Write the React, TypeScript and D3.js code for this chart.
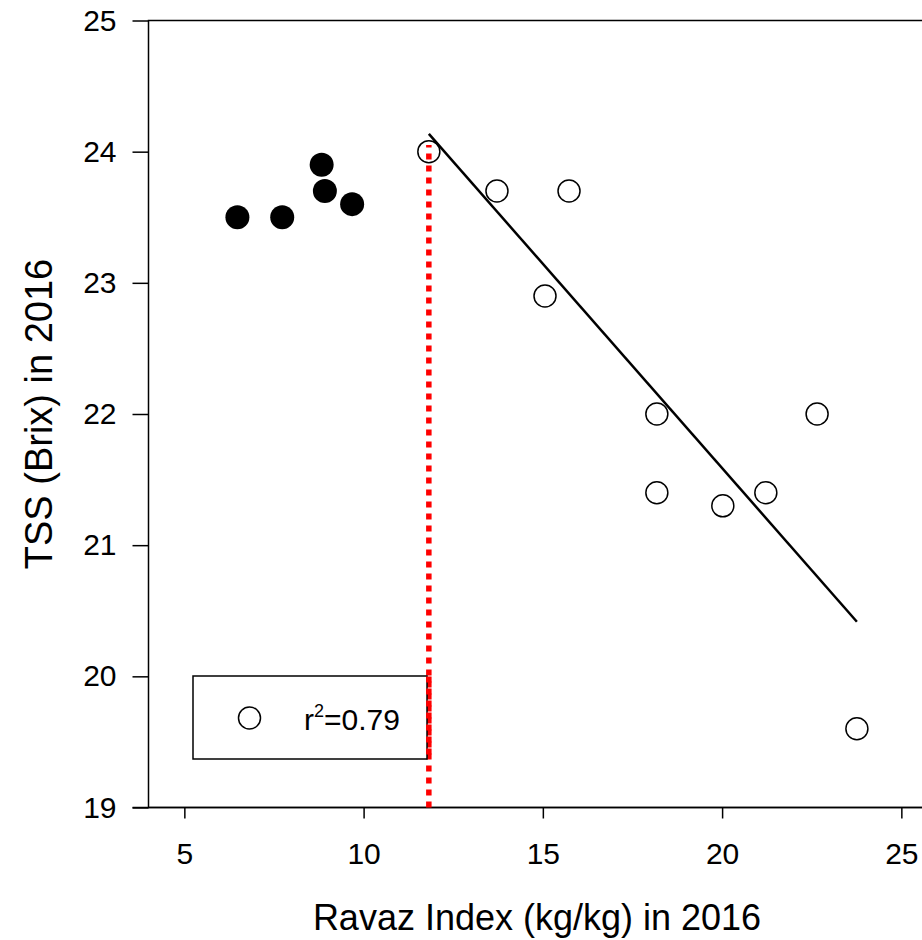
import React, { useEffect, useRef } from "react";
import * as d3 from "d3";

// Ravaz index vs TSS, 2016
const lowX = [6.48, 7.73, 8.83, 8.92, 9.68]; // filled points (below threshold)
const lowY = [23.5, 23.5, 23.9, 23.7, 23.6];
const highX = [11.82, 13.72, 15.73, 15.06, 18.18, 18.18, 20.02, 21.22, 22.65, 23.76]; // open points
const highY = [24.0, 23.7, 23.7, 22.9, 22.0, 21.4, 21.3, 21.4, 22.0, 19.6];
const thresholdX = 11.82;
const thresholdTop = 24.05;
const xTicks = [5, 10, 15, 20, 25];
const yTicks = [19, 20, 21, 22, 23, 24, 25];
const r2Label = "0.79";

const FONT = "Arial, 'Liberation Sans', sans-serif";

export default function App() {
  const ref = useRef<SVGSVGElement>(null);

  useEffect(() => {
    const svg = d3.select(ref.current);
    svg.selectAll("*").remove();

    const x = d3.scaleLinear().domain([4, 26]).range([148.5, 937.2]);
    const y = d3.scaleLinear().domain([19, 25]).range([807.5, 20.5]);

    // frame (top line / right side mostly out of view)
    svg.append("rect")
      .attr("x", x(4)).attr("y", y(25))
      .attr("width", x(26) - x(4)).attr("height", y(19) - y(25))
      .attr("fill", "none").attr("stroke", "#000").attr("stroke-width", 1.5);

    // bottom axis
    const gx = svg.append("g").attr("transform", `translate(0, ${y(19)})`)
      .call(d3.axisBottom(x).tickValues(xTicks).tickSize(11).tickSizeOuter(0).tickPadding(24).tickFormat(d3.format("d")));
    gx.select(".domain").remove();
    svg.append("line").attr("x1", x(4) - 16).attr("x2", x(26))
      .attr("y1", y(19)).attr("y2", y(19)).attr("stroke", "#000").attr("stroke-width", 1.5);

    // left axis
    const gy = svg.append("g").attr("transform", `translate(${x(4)}, 0)`)
      .call(d3.axisLeft(y).tickValues(yTicks).tickSize(16).tickSizeOuter(0).tickPadding(16).tickFormat(d3.format("d")));
    gy.select(".domain").remove();

    [gx, gy].forEach(g => {
      g.selectAll("line").attr("stroke", "#000").attr("stroke-width", 1.5);
      g.selectAll("text").attr("font-family", FONT).attr("font-size", 30).attr("fill", "#000");
    });

    // axis titles
    svg.append("text")
      .attr("x", 537).attr("y", 930)
      .attr("text-anchor", "middle")
      .attr("font-family", FONT).attr("font-size", 36)
      .text("Ravaz Index (kg/kg) in 2016");

    svg.append("text")
      .attr("transform", `translate(52, ${(y(19) + y(25)) / 2}) rotate(-90)`)
      .attr("text-anchor", "middle")
      .attr("font-family", FONT).attr("font-size", 38)
      .text("TSS (Brix) in 2016");

    // threshold line
    svg.append("line")
      .attr("x1", x(thresholdX)).attr("x2", x(thresholdX))
      .attr("y1", y(19)).attr("y2", y(thresholdTop))
      .attr("stroke", "#ff0000").attr("stroke-width", 5.5)
      .attr("stroke-dasharray", "6,6");

    // regression on open points
    const n = highX.length;
    const mx = d3.mean(highX) as number;
    const my = d3.mean(highY) as number;
    let sxy = 0, sxx = 0;
    for (let i = 0; i < n; i++) {
      sxy += (highX[i] - mx) * (highY[i] - my);
      sxx += (highX[i] - mx) ** 2;
    }
    const slope = sxy / sxx;
    const icpt = my - slope * mx;
    const [x0, x1] = d3.extent(highX) as [number, number];
    svg.append("line")
      .attr("x1", x(x0)).attr("y1", y(icpt + slope * x0))
      .attr("x2", x(x1)).attr("y2", y(icpt + slope * x1))
      .attr("stroke", "#000").attr("stroke-width", 2.5);

    // filled points
    svg.append("g").selectAll("circle")
      .data(lowX.map((d, i) => [d, lowY[i]]))
      .join("circle")
      .attr("cx", d => x(d[0])).attr("cy", d => y(d[1]))
      .attr("r", 12).attr("fill", "#000");

    // open points
    svg.append("g").selectAll("circle")
      .data(highX.map((d, i) => [d, highY[i]]))
      .join("circle")
      .attr("cx", d => x(d[0])).attr("cy", d => y(d[1]))
      .attr("r", 11).attr("fill", "none").attr("stroke", "#000").attr("stroke-width", 1.5);

    // legend
    const lg = svg.append("g");
    lg.append("rect")
      .attr("x", 193).attr("y", 676).attr("width", 234).attr("height", 83)
      .attr("fill", "#fff").attr("stroke", "#000").attr("stroke-width", 1.5);
    lg.append("circle")
      .attr("cx", 249.5).attr("cy", 718).attr("r", 11)
      .attr("fill", "none").attr("stroke", "#000").attr("stroke-width", 1.5);
    const t = lg.append("text")
      .attr("x", 304).attr("y", 730)
      .attr("font-family", FONT).attr("font-size", 30);
    t.append("tspan").text("r");
    t.append("tspan").attr("font-size", 18).attr("dy", -13).text("2");
    t.append("tspan").attr("dy", 13).text("=" + r2Label);

    // threshold line continues over the legend border
    svg.append("line")
      .attr("x1", x(thresholdX)).attr("x2", x(thresholdX))
      .attr("y1", 676).attr("y2", 759)
      .attr("stroke", "#ff0000").attr("stroke-width", 5.5)
      .attr("stroke-dasharray", "6,6")
      .attr("stroke-dashoffset", -(y(19) - 759));
  }, []);

  return (
    <div style={{ position: "absolute", left: 0, top: 0, width: 922, height: 940, overflow: "hidden", background: "#fff" }}>
      <svg ref={ref} width={922} height={940} style={{ display: "block" }} />
    </div>
  );
}
